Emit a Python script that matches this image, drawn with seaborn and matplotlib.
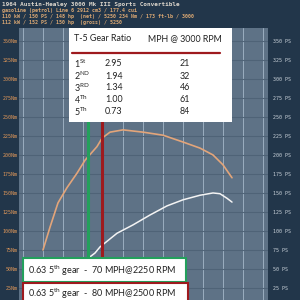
import matplotlib
matplotlib.use("Agg")
import matplotlib.pyplot as plt
import seaborn as sns
from matplotlib.patches import Rectangle
from matplotlib.lines import Line2D

# dyno curves
torque_rpm = [1000, 1175, 1375, 1600, 1850, 2050, 2350, 2475, 2675, 3000, 3500, 4000, 4500, 4925, 5250, 5500, 5725]
torque_nm = [75, 105, 137, 157, 176, 193, 211, 222, 230, 233, 230, 226, 217, 209, 200, 187, 170]
power_rpm = [1000, 1250, 1500, 1800, 2125, 2300, 2425, 2850, 3250, 3675, 4100, 4500, 4925, 5250, 5425, 5600, 5725]
power_ps = [11, 20, 32, 46, 64, 71, 79, 97, 108, 121, 133, 141, 147, 150, 149, 143, 138]

y_ticks = [25, 50, 75, 100, 125, 150, 175, 200, 225, 250, 275, 300, 325, 350]
x_grid = [500, 1000, 1500, 2000, 2500, 3000, 3500, 4000, 4500, 5000, 5500, 6000, 6500]

header_lines = [
    "1964 Austin-Healey 3000 Mk III Sports Convertible",
    "gasoline (petrol) Line 6 2912 cm3 / 177.4 cui",
    "110 kW / 150 PS / 148 hp  (net) / 5250 234 Nm / 173 ft-lb / 3000",
    "112 kW / 152 PS / 150 hp  (gross) / 5250",
]

gears = ["1", "2", "3", "4", "5"]
gear_sup = ["St", "ND", "RD", "Th", "Th"]
ratios = ["2.95", "1.94", "1.34", "1.00", "0.73"]
mph_3000 = ["21", "32", "46", "61", "84"]

line_rpm = [2130, 2480]  # where the marker lines sit in the image
box_texts = [r"0.63 5$^{\mathrm{th}}$ gear  -  70 MPH@2250 RPM",
             r"0.63 5$^{\mathrm{th}}$ gear  -  80 MPH@2500 RPM"]

BG = "#22364a"
PLOT_BG = "#5e7286"
GREEN = "#23a05c"
RED = "#9e1a1e"

sns.set_style("dark")
plt.rcParams["font.family"] = ["Lato", "DejaVu Sans"]
plt.rcParams["mathtext.fontset"] = "custom"
plt.rcParams["mathtext.rm"] = "Lato"


def fx(px):
    return px / 300


def fy(py):
    return 1 - py / 300


fig = plt.figure(figsize=(3, 3), dpi=100, facecolor=BG)
ax = fig.add_axes([fx(19), 0, fx(268) - fx(19), fy(28)])
ax.set_facecolor(PLOT_BG)
ax.set_xlim(400, 6625)
ax.set_ylim(9.2, 367)

for s in ax.spines.values():
    s.set_visible(False)

ax.set_xticks(x_grid)
ax.set_xticklabels([])
ax.tick_params(axis="x", length=0)
for xg in x_grid:
    ax.axvline(xg, color="#9aadbf", lw=0.7, zorder=1)
for yg in y_ticks:
    ax.axhline(yg, color="#4f6377", lw=0.8, zorder=1)

ax.set_yticks(y_ticks)
ax.set_yticklabels([f"{v}Nm" for v in y_ticks], family="DejaVu Sans Mono",
                   fontsize=3.6, color="#dd9659")
ax.tick_params(axis="y", length=0, pad=0.8)

ax2 = ax.twinx()
ax2.set_ylim(ax.get_ylim())
ax2.set_yticks(y_ticks)
ax2.set_yticklabels([f"{v} PS" for v in y_ticks], family="DejaVu Sans Mono",
                    fontsize=3.6, color="#c9d1d9")
ax2.tick_params(axis="y", length=0, pad=3.6)
for s in ax2.spines.values():
    s.set_visible(False)

sns.lineplot(x=torque_rpm, y=torque_nm, ax=ax, color="#e3a57a", lw=1.2, zorder=3)
sns.lineplot(x=power_rpm, y=power_ps, ax=ax, color="#f4f4f4", lw=1.1, zorder=3)

ax.axvline(line_rpm[0], color=GREEN, lw=2.2, zorder=4)
ax.axvline(line_rpm[1], color=RED, lw=2.2, zorder=4)

# header text
fig.text(fx(2), fy(4.5), header_lines[0], family="DejaVu Sans Mono", fontsize=4.3,
         color="#dcd6cc", va="center", ha="left", weight="bold")
for i, t in enumerate(header_lines[1:]):
    fig.text(fx(2), fy(10.8 + 6 * i), t, family="DejaVu Sans Mono", fontsize=3.6,
             color="#dba873", va="center", ha="left", weight="bold")

# gear table
fig.patches.append(Rectangle((fx(69), fy(122)), fx(232) - fx(69), fy(28) - fy(122),
                             transform=fig.transFigure, facecolor="white",
                             edgecolor="none", zorder=5))
fig.text(fx(74), fy(38.5), "T-5 Gear Ratio", fontsize=6.4, color="#222222",
         va="center", ha="left", zorder=6)
fig.text(fx(148), fy(38.5), "MPH @ 3000 RPM", fontsize=6.4, color="#222222",
         va="center", ha="left", zorder=6)
fig.lines.append(Line2D([fx(72), fx(220)], [fy(52.5), fy(52.5)], transform=fig.transFigure,
                        color=RED, lw=1.6, zorder=6))
for i in range(5):
    yy = fy(64 + 12 * i)
    fig.text(fx(74), yy, gears[i] + r"$^{\mathrm{" + gear_sup[i] + "}}$", fontsize=6.4,
             color="#222222", va="center", ha="left", zorder=6)
    fig.text(fx(105), yy, ratios[i], fontsize=6.4, color="#222222",
             va="center", ha="left", zorder=6)
    fig.text(fx(185), yy, mph_3000[i], fontsize=6.4, color="#222222",
             va="center", ha="center", zorder=6)

# bottom annotation boxes
fig.patches.append(Rectangle((fx(23), fy(282)), fx(186) - fx(23), fy(258) - fy(282),
                             transform=fig.transFigure, facecolor="white",
                             edgecolor=GREEN, lw=1.5, zorder=5))
fig.patches.append(Rectangle((fx(23), fy(310)), fx(188) - fx(23), fy(283) - fy(310),
                             transform=fig.transFigure, facecolor="white",
                             edgecolor=RED, lw=1.5, zorder=5))
fig.text(fx(28), fy(270.5), box_texts[0], fontsize=6.5, color="#222222",
         va="center", ha="left", zorder=6)
fig.text(fx(28), fy(293.5), box_texts[1], fontsize=6.5, color="#222222",
         va="center", ha="left", zorder=6)

fig.savefig("out.png", dpi=100, facecolor=BG)
